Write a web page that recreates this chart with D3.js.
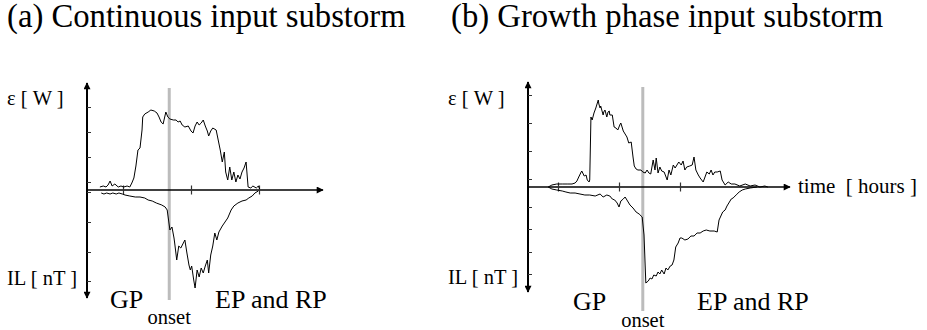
<!DOCTYPE html>
<html>
<head>
<meta charset="utf-8">
<script src="https://cdn.jsdelivr.net/npm/d3@7"></script>
<style>
  html, body { margin: 0; padding: 0; background: #fff; }
  svg { display: block; }
</style>
</head>
<body>
<svg id="chart" width="927" height="330"></svg>
<script>
// ---- Panel titles and labels ----
const titles = ["(a) Continuous input substorm", "(b) Growth phase input substorm"];
const epsLabel = "ε [ W ]";
const ilLabel = "IL [ nT ]";
const timeLabel = "time  [ hours ]";
const phaseLabels = ["GP", "EP and RP"];
const onsetLabel = "onset";
const serif = "Tinos, 'Liberation Serif', 'Times New Roman', serif";

// ---- (a) Continuous input substorm ----
// time in hours, ε and IL in arbitrary units (IL negative)
const timeEpsA = [0.66,0.71,0.75,0.78,0.81,0.84,0.88,0.93,0.97,1.01,1.06,1.10,1.13,1.16,1.19,1.22,1.25,1.28,1.29,1.32,
  1.37,1.41,1.46,1.50,1.53,1.56,1.59,1.62,1.63,1.66,1.69,1.74,1.78,1.81,1.84,1.87,1.91,1.96,2.00,2.03,
  2.06,2.09,2.12,2.15,2.18,2.21,2.24,2.26,2.29,2.32,2.37,2.40,2.43,2.46,2.49,2.51,2.54,2.57,2.60,2.63,
  2.66,2.69,2.72,2.75,2.78,2.81,2.84,2.88,2.91,2.96,2.99,3.01];
const epsA = [3,4,3,5,9,4,6,3,4,3,4,3,7,12,24,40,42,60,73,76,
  78,80,79,77,73,68,66,75,78,73,71,70,70,68,69,65,63,64,59,57,
  64,68,65,67,70,64,59,54,59,62,60,50,40,28,38,18,10,23,10,18,
  8,15,11,18,22,28,3,2,4,2,4,1];
const timeIlA = [0.68,0.72,0.76,0.81,0.85,0.90,0.94,0.99,1.03,1.10,1.18,1.25,1.32,1.37,1.43,1.49,1.53,1.57,1.62,1.65,
  1.69,1.72,1.75,1.76,1.79,1.82,1.85,1.88,1.91,1.94,1.97,1.99,2.01,2.04,2.06,2.09,2.12,2.15,2.18,2.21,
  2.24,2.26,2.29,2.32,2.35,2.38,2.41,2.46,2.50,2.54,2.59,2.63,2.69,2.75,2.81,2.85,2.90,2.94,2.99];
const ilA = [-3,-4,-3,-4,-3,-4,-3,-4,-5,-6,-7,-7,-8,-10,-11,-13,-14,-15,-17,-20,
  -40,-37,-48,-53,-70,-56,-58,-54,-50,-63,-75,-80,-76,-90,-98,-80,-87,-78,-83,-76,
  -70,-83,-65,-56,-43,-50,-42,-36,-32,-28,-20,-16,-13,-11,-10,-8,-6,-3,-1];
const onsetA = 1.68;
const timeTicksA = [1, 2, 3];
const epsTicksA = [8, 33, 58, 83];
const ilTicksA = [-2, -32, -62, -91];

// ---- (b) Growth phase input substorm ----
const timeEpsB = [0.84,0.90,0.98,1.07,1.15,1.23,1.28,1.31,1.34,1.38,1.39,1.43,1.46,1.48,1.51,1.52,1.54,1.56,1.59,1.62,
  1.66,1.67,1.69,1.70,1.74,1.75,1.77,1.80,1.82,1.84,1.85,1.89,1.92,1.95,1.98,2.02,2.03,2.07,2.10,2.13,
  2.16,2.20,2.23,2.25,2.28,2.31,2.36,2.39,2.43,2.46,2.49,2.52,2.56,2.59,2.61,2.64,2.67,2.70,2.74,2.79,
  2.82,2.85,2.89,2.92,2.95,2.98,3.02,3.05,3.08,3.11,3.16,3.20,3.23,3.26,3.30,3.33,3.38,3.41,3.44,3.48,
  3.51,3.54,3.57,3.61,3.66,3.69,3.74,3.79,3.84,3.90,3.98,4.07,4.15,4.23,4.31,4.39,4.44];
const epsB = [0,2,3,3,3,3,4,6,10,15,16,11,12,7,5,7,70,67,74,79,
  87,83,79,81,72,75,77,70,75,76,72,72,60,59,57,63,64,56,53,50,
  44,45,30,21,18,17,17,15,14,17,14,13,27,17,29,14,20,16,15,7,
  17,12,22,19,22,25,22,26,17,20,21,22,30,17,12,9,5,10,15,13,
  17,12,15,15,16,7,2,5,3,3,1,3,1,2,0,1,0];
const timeIlB = [0.84,0.90,0.98,1.07,1.13,1.20,1.28,1.36,1.44,1.52,1.61,1.69,1.74,1.80,1.85,1.89,1.93,1.97,2.00,2.03,
  2.07,2.10,2.13,2.18,2.23,2.28,2.33,2.38,2.41,2.44,2.48,2.51,2.54,2.57,2.61,2.64,2.67,2.70,2.74,2.77,
  2.80,2.84,2.87,2.90,2.93,2.97,3.00,3.03,3.08,3.13,3.18,3.23,3.28,3.33,3.38,3.43,3.49,3.56,3.61,3.64,
  3.67,3.70,3.74,3.77,3.80,3.84,3.87,3.92,3.97,4.02,4.07,4.15,4.26];
const ilB = [0,-2,-3,-4,-5,-6,-6,-7,-8,-8,-9,-7,-10,-8,-9,-12,-13,-16,-20,-14,
  -12,-10,-13,-18,-21,-25,-27,-30,-48,-96,-94,-91,-92,-88,-89,-85,-87,-83,-87,-81,
  -83,-79,-78,-73,-60,-56,-51,-51,-53,-52,-49,-49,-46,-46,-44,-43,-44,-44,-45,-33,
  -29,-25,-23,-19,-16,-12,-11,-8,-5,-3,-2,-1,0];
const onsetB = 2.39;
const timeTicksB = [1, 2, 3];
const epsTicksB = [8, 36, 64, 92];
const ilTicksB = [-20, -42, -65, -87];

// ---- layout of the two panels (pixels) ----
const panels = [
  { title: titles[0], titleX: 7,
    time: [timeEpsA, timeIlA], eps: epsA, il: ilA, onset: onsetA,
    tTicks: timeTicksA, eTicks: epsTicksA, iTicks: ilTicksA,
    xRange: [123, 259], axisX: 87, axisY: 190, top: 83, bottom: 298, right: 323,
    onsetTop: 88, onsetBottom: 300, labelX: 7, epsY: 105, ilY: 285,
    gpX: 110, epX: 215, phaseY: 308, onsetY: 324, timeLabel: false },
  { title: titles[1], titleX: 451,
    time: [timeEpsB, timeIlB], eps: epsB, il: ilB, onset: onsetB,
    tTicks: timeTicksB, eTicks: epsTicksB, iTicks: ilTicksB,
    xRange: [558, 680], axisX: 528, axisY: 187, top: 82, bottom: 292, right: 790,
    onsetTop: 87, onsetBottom: 311, labelX: 448, epsY: 105, ilY: 284,
    gpX: 573, epX: 697, phaseY: 310, onsetY: 327, timeLabel: true }
];

const svg = d3.select("#chart");

// arrowhead used on the axes
const defs = svg.append("defs");
defs.append("marker")
  .attr("id", "arrow")
  .attr("viewBox", "0 0 10 10")
  .attr("refX", 9).attr("refY", 5)
  .attr("markerUnits", "userSpaceOnUse")
  .attr("markerWidth", 9).attr("markerHeight", 7)
  .attr("orient", "auto-start-reverse")
  .append("path").attr("d", "M0,0 L10,5 L0,10 Z").attr("fill", "#000");

function label(g, x, y, size, str) {
  return g.append("text").attr("x", x).attr("y", y)
    .attr("font-family", serif).attr("font-size", size)
    .attr("fill", "#000").style("white-space", "pre").text(str);
}

panels.forEach(p => {
  const g = svg.append("g");

  const x = d3.scaleLinear().domain([1, 3]).range(p.xRange);
  const y = d3.scaleLinear().domain([-100, 100]).range([p.axisY + 100, p.axisY - 100]);

  // title
  label(svg, p.titleX, 27, 32.7, p.title);

  // onset marker (grey vertical band)
  g.append("line")
    .attr("x1", x(p.onset)).attr("x2", x(p.onset))
    .attr("y1", p.onsetTop).attr("y2", p.onsetBottom)
    .attr("stroke", "#bcbcbc").attr("stroke-width", 3);

  // vertical axis with arrows at both ends
  g.append("line")
    .attr("x1", p.axisX).attr("x2", p.axisX)
    .attr("y1", p.bottom).attr("y2", p.top)
    .attr("stroke", "#000").attr("stroke-width", 2)
    .attr("marker-start", "url(#arrow)").attr("marker-end", "url(#arrow)");

  // vertical ticks (ε above, IL below)
  const yAxis = d3.axisRight(y)
    .tickValues(p.eTicks.concat(p.iTicks))
    .tickSize(4).tickFormat("");
  const ya = g.append("g").attr("transform", `translate(${p.axisX},0)`).call(yAxis);
  ya.select(".domain").remove();
  ya.selectAll(".tick line").attr("stroke", "#333").attr("stroke-width", 1);

  // horizontal time axis with arrow
  g.append("line")
    .attr("x1", p.axisX).attr("x2", p.right)
    .attr("y1", p.axisY).attr("y2", p.axisY)
    .attr("stroke", "#000").attr("stroke-width", 1.5)
    .attr("marker-end", "url(#arrow)");

  const xAxis = d3.axisBottom(x).tickValues(p.tTicks).tickSize(4.5).tickFormat("");
  const xa = g.append("g").attr("transform", `translate(0,${p.axisY})`).call(xAxis);
  xa.select(".domain").remove();
  xa.selectAll(".tick line").attr("y1", -4.5).attr("stroke", "#333").attr("stroke-width", 1.2);

  // ε and IL traces
  const line = d3.line().x(d => x(d[0])).y(d => y(d[1]));
  g.append("path")
    .datum(d3.zip(p.time[0], p.eps))
    .attr("d", line).attr("fill", "none")
    .attr("stroke", "#000").attr("stroke-width", 1).attr("stroke-linejoin", "round");
  g.append("path")
    .datum(d3.zip(p.time[1], p.il))
    .attr("d", line).attr("fill", "none")
    .attr("stroke", "#000").attr("stroke-width", 1).attr("stroke-linejoin", "round");

  // axis labels
  label(g, p.labelX, p.epsY, 20.5, epsLabel);
  label(g, p.labelX, p.ilY, 20.5, ilLabel);

  // phase labels
  label(g, p.gpX, p.phaseY, 26, phaseLabels[0]);
  label(g, p.epX, p.phaseY, 26, phaseLabels[1]);
  label(g, x(p.onset), p.onsetY, 20.5, onsetLabel).attr("text-anchor", "middle");

  if (p.timeLabel) {
    label(g, p.right + 8, p.axisY + 6, 21, timeLabel);
  }
});
</script>
</body>
</html>
